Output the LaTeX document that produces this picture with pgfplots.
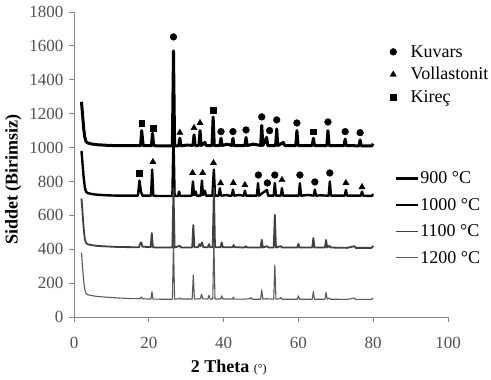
\documentclass[border=0pt]{standalone}
\usepackage{pgfplots}
\pgfplotsset{compat=1.18}
\usepackage{fontspec}
\setmainfont{Liberation Serif}

\definecolor{axisgray}{HTML}{868686}
\definecolor{ticktext}{HTML}{505050}
\definecolor{c1100}{HTML}{404040}
\definecolor{c1200}{HTML}{5A5A5A}

% XRD patterns, offset vertically by firing temperature
\pgfplotstableread{
x y
2.0 1270
2.3 1190
2.6 1110
2.9 1060
3.2 1035
3.6 1028
4.5 1022
6 1017
9 1013
12 1011
16 1011
17.8 1011
18.1 1100
18.5 1011
20.7 1011
21.0 1085
21.3 1011
23 1010
26.3 1010
26.6 1570
26.9 1010
28.0 1010
28.3 1055
28.6 1010
30.5 1015
31.8 1012
32.1 1075
32.4 1012
33.4 1012
33.7 1100
34.0 1012
35.0 1030
35.3 1012
36.9 1012
37.2 1180
37.5 1012
39.0 1012
39.3 1055
39.6 1012
41.0 1020
42.2 1012
42.5 1055
42.8 1012
45.7 1012
46.0 1060
46.3 1012
48.0 1020
49.9 1012
50.2 1130
50.5 1012
51.5 1060
51.8 1012
53.9 1012
54.2 1110
54.5 1012
56.0 1030
56.3 1012
59.3 1012
59.6 1100
59.9 1012
63.7 1012
64.0 1055
64.3 1012
67.6 1012
67.9 1100
68.2 1012
72.2 1012
72.5 1050
72.8 1012
76.2 1010
76.5 1045
76.8 1010
79.6 1010
80.0 1022
}\tnine

\pgfplotstableread{
x y
2.0 980
2.3 900
2.6 820
2.9 765
3.2 740
3.6 732
4.5 727
6 722
9 718
12 716
16 716
17.1 716
17.5 805
17.9 740
18.3 716
20.6 716
20.9 870
21.2 716
22.5 714
26.3 714
26.6 1060
26.9 714
27.8 714
28.1 740
28.4 714
31.5 716
31.8 800
32.1 720
32.5 740
32.8 716
33.9 716
34.2 805
34.5 720
35.0 745
35.3 716
37.0 716
37.4 870
37.7 716
38.7 716
39.0 760
39.3 716
41.0 720
41.3 716
42.2 716
42.5 752
42.8 716
44.0 720
45.4 716
45.7 745
46.0 716
48.9 716
49.2 790
49.5 716
50.3 730
51.6 750
51.9 716
53.4 716
53.7 790
54.0 716
55.3 716
55.6 760
55.9 716
58.0 716
60.1 716
60.4 790
60.7 716
62.5 720
64.1 716
64.4 752
64.7 716
66.0 718
68.1 716
68.4 800
68.7 716
70.0 716
72.4 716
72.7 750
73.0 716
76.7 716
77.0 740
77.3 716
79.6 714
80.0 725
}\tten

\pgfplotstableread{
x y
2.0 700
2.3 610
2.6 520
2.9 460
3.2 438
3.6 430
4.5 425
6 420
9 416
12 413
16 412
17.4 412
17.7 435
18.0 440
18.3 415
20.5 412
20.8 495
21.1 412
22.0 410
26.3 410
26.6 760
26.9 410
28.3 420
28.6 410
31.6 410
31.9 543
32.2 412
33.2 412
33.5 430
33.8 418
34.2 440
34.6 412
35.8 412
36.1 430
36.4 412
37.1 412
37.4 760
37.7 412
39.2 412
39.5 440
39.8 412
42.4 412
42.7 425
43.0 412
45.5 410
46.0 418
46.3 410
49.9 410
50.2 455
50.5 410
51.6 418
52.0 410
53.4 410
53.7 602
54.0 410
55.3 418
55.6 410
59.7 410
60.0 432
60.3 410
63.7 410
64.0 466
64.3 410
67.1 410
67.4 455
67.7 410
68.3 420
68.6 410
73.0 408
75.0 418
75.3 408
79.6 408
80.0 420
}\televen

\pgfplotstableread{
x y
2.0 380
2.3 290
2.6 210
2.9 160
3.2 140
3.6 132
4.5 127
6 122
8 118
10 115
12 112
14 110
16 108
17.7 108
18.0 118
18.3 108
20.0 106
20.6 106
20.85 150
21.1 106
23.0 105
26.3 105
26.6 440
26.9 105
28.0 108
28.3 112
28.6 106
31.6 106
31.9 248
32.2 106
33.8 108
34.1 135
34.4 108
35.8 106
36.1 128
36.4 106
37.1 106
37.4 440
37.7 106
39.2 106
39.5 125
39.8 106
42.4 106
42.6 118
42.8 106
45.0 105
47.0 108
47.3 115
47.6 105
49.9 105
50.2 160
50.5 105
51.5 108
53.4 105
53.7 307
54.0 105
55.0 108
55.3 115
55.6 105
59.7 105
60.0 125
60.3 105
63.7 105
64.0 150
64.3 105
67.1 105
67.4 145
67.7 105
68.2 112
68.5 105
73.0 104
75.0 112
75.3 104
79.6 104
80.0 112
}\ttwelve

\begin{document}
\begin{tikzpicture}
\useasboundingbox (0,0) rectangle (491bp,380bp);

\begin{axis}[
  at={(74bp,63bp)}, anchor=south west,
  scale only axis, width=374bp, height=305bp,
  xmin=0, xmax=100, ymin=0, ymax=1800,
  xtick={0,20,...,100}, ytick={0,200,...,1800},
  axis lines=left, axis line style={axisgray, line width=0.8bp, -},
  tick style={axisgray, line width=0.8bp},
  tick align=outside, major tick length=5bp,
  /pgf/number format/assume math mode=true,
  /pgf/number format/1000 sep={},
  tick label style={font=\fontsize{17bp}{19bp}\selectfont, text=ticktext},
  xticklabel style={yshift=-12bp},
  yticklabel style={xshift=-2bp},
  xlabel={\fontsize{18bp}{20bp}\selectfont\bfseries 2 Theta \fontsize{12bp}{14bp}\selectfont\mdseries(\textdegree)},
  every axis x label/.style={at={(axis description cs:0.414,-0.166)}, anchor=center},
  ylabel={\fontsize{18bp}{20bp}\selectfont\bfseries Siddet (Birimsiz)},
  every axis y label/.style={at={(axis description cs:-0.162,0.45)}, rotate=90, anchor=center},
  legend style={draw=none, fill=none, at={(axis description cs:0.856,0.48)}, anchor=north west,
    inner sep=0pt, row sep=11bp, font=\fontsize{18bp}{20bp}\selectfont,
    nodes={inner sep=1bp}},
  legend cell align=left,
  legend image code/.code={\draw[#1] (0bp,0bp) -- (22bp,0bp);},
]
\addplot[black, line width=3bp, line join=round] table {\tnine};
\addlegendentry{900 \textdegree C}
\addplot[black, line width=2.4bp, line join=round] table {\tten};
\addlegendentry{1000 \textdegree C}
\addplot[c1100, line width=1.8bp, line join=round] table {\televen};
\addlegendentry{1100 \textdegree C}
\addplot[c1200, line width=1.1bp, line join=round] table {\ttwelve};
\addlegendentry{1200 \textdegree C}
\end{axis}

% phase markers above the diffraction peaks
\begin{axis}[
  at={(74bp,63bp)}, anchor=south west,
  scale only axis, width=374bp, height=305bp,
  xmin=0, xmax=100, ymin=0, ymax=1800,
  axis lines=none, clip=false,
  legend style={draw=none, fill=none, at={(axis description cs:0.844,0.895)}, anchor=north west,
    inner sep=0pt, row sep=7bp, column sep=13bp, font=\fontsize{18bp}{20bp}\selectfont,
    nodes={inner sep=1bp}},
  legend cell align=left,
  legend image code/.code={\draw[mark repeat=2,mark phase=2,#1] plot coordinates {(0bp,0bp) (6bp,0bp) (12bp,0bp)};},
]
\addplot[only marks, mark=*, mark size=3.4bp, black] coordinates {
  (26.6,1653) (39.3,1094) (42.5,1094) (46.0,1104) (50.2,1181) (52.3,1100)
  (54.2,1163) (59.6,1145) (67.9,1151) (72.5,1094) (76.5,1088)
  (49.3,838) (51.7,791) (53.7,838) (60.4,838) (64.4,797) (68.4,850)
};
\addlegendentry{Kuvars}
\addplot[only marks, mark=triangle*, mark size=3.6bp, black] coordinates {
  (28.3,1088) (32.1,1116) (33.7,1145)
  (21.1,915) (31.7,850) (34.4,850) (37.3,909) (39.2,790) (42.6,791)
  (45.7,779) (55.6,809) (72.7,791) (77.0,767)
};
\addlegendentry{Vollastonit}
\addplot[only marks, mark=square*, mark size=2.9bp, black] coordinates {
  (18.1,1145) (21.1,1116) (37.2,1222) (64.0,1094) (17.4,850)
};
\addlegendentry{Kireç}
\end{axis}
\end{tikzpicture}
\end{document}
